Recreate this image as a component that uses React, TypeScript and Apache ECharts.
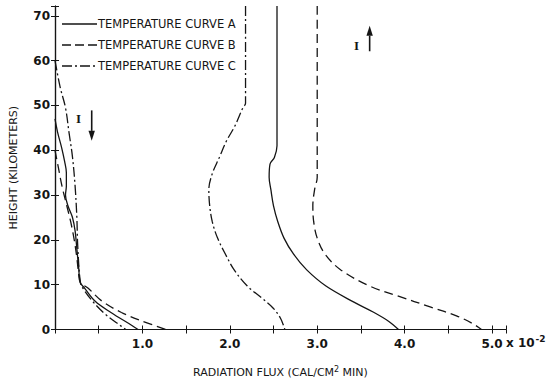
import React, { useEffect, useRef } from "react";
import * as echarts from "echarts";

// ---- Data (flux in units of 10^-2 cal/cm^2 min, height in km) ----
// Curve A (solid) — downward branch (left) and upward branch (right)
const fluxA_left = [0.0, 0.03, 0.077, 0.11, 0.13, 0.13, 0.12, 0.15, 0.2, 0.23, 0.25, 0.27, 0.29, 0.34, 0.46, 0.64, 0.88, 0.95];
const heightA_left = [47, 44, 40.5, 37.5, 35, 32, 30, 27.5, 25, 22, 18, 14, 10.5, 9.2, 6.3, 3.8, 0.9, 0];
const fluxA_right = [2.54, 2.54, 2.51, 2.46, 2.45, 2.47, 2.5, 2.55, 2.62, 2.73, 2.88, 3.1, 3.42, 3.64, 3.82, 3.93];
const heightA_right = [72.2, 41, 38.4, 36.9, 34, 31.2, 27.6, 24, 20.4, 16.8, 13.3, 9.7, 6.1, 3.9, 1.8, 0];

// Curve B (dashed)
const fluxB_left = [0.0, 0.04, 0.08, 0.13, 0.18, 0.22, 0.25, 0.27, 0.29, 0.38, 0.54, 0.76, 0.98, 1.27];
const heightB_left = [40, 36, 32, 28, 24, 20, 16, 12.5, 10.5, 9.2, 6.3, 3.8, 2.0, 0];
const fluxB_right = [3.0, 3.0, 2.97, 2.95, 2.96, 3.0, 3.09, 3.27, 3.6, 3.92, 4.3, 4.6, 4.78, 4.88];
const heightB_right = [72.2, 34, 31.2, 27.6, 24, 20.4, 16.8, 13.3, 9.7, 7.5, 5, 3, 1.3, 0];

// Curve C (dash-dot)
const fluxC_left = [0.0, 0.06, 0.12, 0.16, 0.2, 0.23, 0.25, 0.26, 0.29, 0.32, 0.43, 0.57, 0.76, 0.81];
const heightC_left = [60, 54, 49.5, 44, 38.5, 32, 25, 18.7, 10.5, 9.2, 6.3, 3.5, 0.7, 0];
const fluxC_right = [2.18, 2.18, 2.15, 2.06, 1.96, 1.88, 1.8, 1.76, 1.77, 1.8, 1.86, 1.95, 2.05, 2.2, 2.38, 2.5, 2.58, 2.63];
const heightC_right = [72.2, 50.5, 49.5, 45.5, 42, 38.4, 34.8, 31.2, 27.6, 24, 20.4, 16.8, 13.3, 9.7, 6.8, 4.7, 2.5, 0];

const legendLabels = ["TEMPERATURE CURVE A", "TEMPERATURE CURVE B", "TEMPERATURE CURVE C"];
const yTickLabels = [0, 10, 20, 30, 40, 50, 60, 70];
const xTickLabels = [1, 2, 3, 4, 5];

const zip = (xs: number[], ys: number[]) => xs.map((x, i) => [x, ys[i]]);

const INK = "#151515";
const dashA: any = "solid";
const dashB: any = [9, 5];
const dashC: any = [10, 3, 2, 3];

export default function App() {
  const ref = useRef<HTMLDivElement>(null);

  useEffect(() => {
    document.body.style.margin = "0";
    const chart = echarts.init(ref.current!, null, { renderer: "svg" });

    const mkSeries = (name: string, data: number[][], type: any) => ({
      name,
      type: "line",
      data,
      smooth: 0.35,
      showSymbol: false,
      symbol: "none",
      lineStyle: { color: INK, width: 1.3, type },
      silent: true,
    });

    const font = "DejaVu Sans";
    const axisLine = { show: true, lineStyle: { color: INK, width: 1.2 } };

    chart.setOption({
      animation: false,
      backgroundColor: "#ffffff",
      grid: { left: 55, right: 43, top: 6, bottom: 49, containLabel: false },
      xAxis: [
        {
          type: "value",
          min: 0,
          max: 5.16,
          interval: 0.5,
          position: "bottom",
          axisLine,
          axisTick: { show: true, inside: true, length: 4, lineStyle: { color: INK } },
          splitLine: { show: false },
          axisLabel: {
            color: INK,
            fontFamily: font,
            fontSize: 12,
            fontWeight: "bold",
            margin: 8,
            formatter: (v: number) =>
              xTickLabels.some((t) => Math.abs(t - v) < 1e-6) ? v.toFixed(1) : "",
          },
          name: "RADIATION FLUX (CAL/CM{sup|2} MIN)",
          nameLocation: "middle",
          nameGap: 36,
          nameTextStyle: {
            color: INK,
            fontFamily: font,
            fontSize: 11,
            rich: { sup: { fontSize: 8, verticalAlign: "top", padding: [0, 0, 6, 0], color: INK, fontFamily: font } },
          },
        },
        {
          type: "value",
          min: 0,
          max: 5.16,
          interval: 0.5,
          position: "top",
          axisLine,
          axisTick: { show: true, inside: true, length: 4, lineStyle: { color: INK } },
          splitLine: { show: false },
          axisLabel: { show: false },
        },
      ],
      yAxis: [
        {
          type: "value",
          min: 0,
          max: 72.2,
          interval: 10,
          position: "left",
          axisLine,
          axisTick: { show: true, inside: true, length: 4, lineStyle: { color: INK } },
          splitLine: { show: false },
          axisLabel: {
            color: INK,
            fontFamily: font,
            fontSize: 12,
            fontWeight: "bold",
            margin: 5,
            formatter: (v: number) => (yTickLabels.includes(v) ? String(v) : ""),
          },
          name: "HEIGHT (KILOMETERS)",
          nameLocation: "middle",
          nameRotate: 90,
          nameGap: 36,
          nameTextStyle: { color: INK, fontFamily: font, fontSize: 11 },
        },
        {
          type: "value",
          min: 0,
          max: 72.2,
          interval: 10,
          position: "right",
          axisLine,
          axisTick: { show: true, inside: true, length: 4, lineStyle: { color: INK } },
          splitLine: { show: false },
          axisLabel: { show: false },
        },
      ],
      series: [
        mkSeries("A", zip(fluxA_left, heightA_left), dashA),
        mkSeries("A", zip(fluxA_right, heightA_right), dashA),
        mkSeries("B", zip(fluxB_left, heightB_left), dashB),
        mkSeries("B", zip(fluxB_right, heightB_right), dashB),
        mkSeries("C", zip(fluxC_left, heightC_left), dashC),
        mkSeries("C", zip(fluxC_right, heightC_right), dashC),
      ],
    });

    const px = (x: number, y: number) => chart.convertToPixel({ gridIndex: 0 }, [x, y]) as number[];

    const arrow = (x: number, yFrom: number, yTo: number) => {
      const a = px(x, yFrom);
      const b = px(x, yTo);
      const dir = b[1] > a[1] ? 1 : -1;
      const headLen = 10;
      return [
        { type: "line", shape: { x1: a[0], y1: a[1], x2: b[0], y2: b[1] - dir * headLen }, style: { stroke: INK, lineWidth: 1.6 } },
        {
          type: "polygon",
          shape: { points: [[b[0] - 3.2, b[1] - dir * headLen], [b[0] + 3.2, b[1] - dir * headLen], [b[0], b[1]]] },
          style: { fill: INK },
        },
      ];
    };

    const iL = px(0.27, 47.1);
    const iR = px(3.45, 63.4);
    const legendY = [24, 45, 66];
    const legendDash = [null, [9, 4], [10, 3, 2, 3]];

    const graphic: any[] = [];
    legendLabels.forEach((lab, i) => {
      graphic.push({
        type: "line",
        shape: { x1: 62, y1: legendY[i], x2: 97, y2: legendY[i] },
        style: { stroke: INK, lineWidth: 1.3, lineDash: legendDash[i] },
      });
      graphic.push({
        type: "text",
        x: 98,
        y: legendY[i],
        style: { text: lab, fill: INK, font: `11.5px ${font}`, verticalAlign: "middle" },
      });
    });
    graphic.push({
      type: "text",
      x: iL[0],
      y: iL[1],
      style: { text: "I", fill: INK, font: "bold 13px 'Liberation Serif'", align: "center", verticalAlign: "middle" },
    });
    graphic.push(...arrow(0.42, 48.9, 42.1));
    graphic.push({
      type: "text",
      x: iR[0],
      y: iR[1],
      style: { text: "I", fill: INK, font: "bold 13px 'Liberation Serif'", align: "center", verticalAlign: "middle" },
    });
    graphic.push(...arrow(3.6, 62.1, 67.8));
    // exponent note after the last tick label
    const p5 = px(5.0, 0);
    graphic.push({
      type: "text",
      x: p5[0] + 14,
      y: p5[1] + 13,
      style: {
        text: "x 10{sup|-2}",
        fill: INK,
        font: `bold 12px ${font}`,
        verticalAlign: "middle",
        rich: { sup: { font: `bold 9px ${font}`, fill: INK, verticalAlign: "top", padding: [0, 0, 7, 1] } },
      },
    });

    chart.setOption({ graphic });

    return () => chart.dispose();
  }, []);

  return <div ref={ref} style={{ width: 549, height: 383 }} />;
}
